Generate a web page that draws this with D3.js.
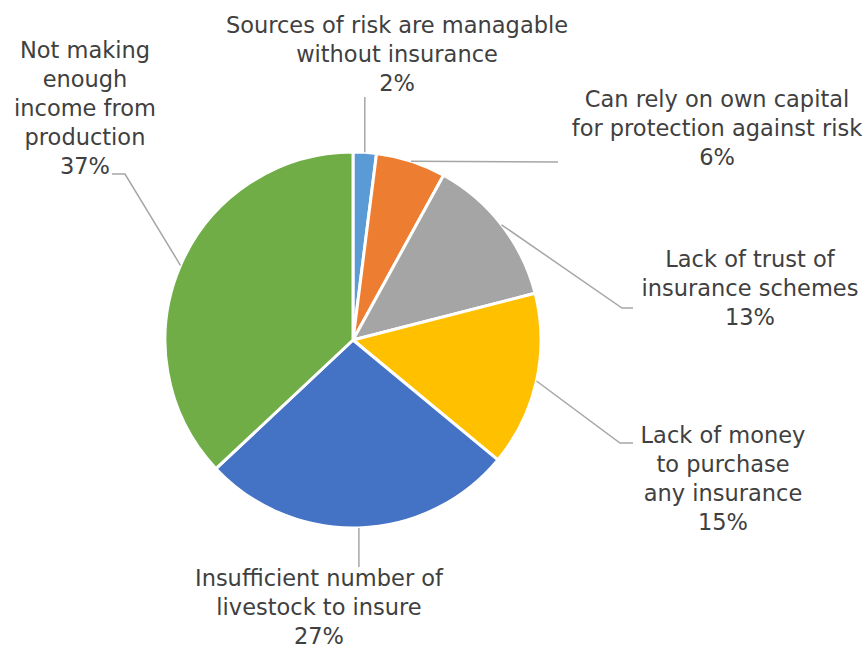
<!DOCTYPE html>
<html>
<head>
<meta charset="utf-8">
<script src="https://cdn.jsdelivr.net/npm/d3@7"></script>
<style>
  html, body { margin: 0; padding: 0; background: #fff; }
  svg text { font-family: "DejaVu Sans", sans-serif; fill: #404040; }
</style>
</head>
<body>
<svg id="chart" width="866" height="648"></svg>
<script>
// Reasons given for not taking up insurance (share of respondents)
const categories = [
  "Sources of risk are managable without insurance",
  "Can rely on own capital for protection against risk",
  "Lack of trust of insurance schemes",
  "Lack of money to purchase any insurance",
  "Insufficient number of livestock to insure",
  "Not making enough income from production"
];
const values = [2, 6, 13, 15, 27, 37];
const colors = ["#5B9BD5", "#ED7D31", "#A5A5A5", "#FFC000", "#4472C4", "#70AD47"];

// How each label's text is broken into lines
const labelLines = [
  ["Sources of risk are managable", "without insurance"],
  ["Can rely on own capital", "for protection against risk"],
  ["Lack of trust of", "insurance schemes"],
  ["Lack of money", "to purchase", "any insurance"],
  ["Insufficient number of", "livestock to insure"],
  ["Not making", "enough", "income from", "production"]
];

const svg = d3.select("#chart");
const cx = 353, cy = 340, r = 188;
const fontSize = 22.5, lineGap = 29;

const pie = d3.pie().sort(null).value(d => d);
const arcs = pie(values);
const arc = d3.arc().innerRadius(0).outerRadius(r);

const g = svg.append("g").attr("transform", `translate(${cx},${cy})`);

g.selectAll("path.slice")
  .data(arcs)
  .join("path")
  .attr("class", "slice")
  .attr("d", arc)
  .attr("fill", (d, i) => colors[i])
  .attr("stroke", "#fff")
  .attr("stroke-width", 3)
  .attr("stroke-linejoin", "round");

// Point on the rim at the middle angle of a slice
function rimPoint(d) {
  const a = (d.startAngle + d.endAngle) / 2;
  return [cx + r * Math.sin(a), cy - r * Math.cos(a)];
}

// Label block placement: text centre x, first baseline y, and leader path bends
const labelLayout = [
  { x: 397, y: 33, bends: [[365, 97]] },
  { x: 717, y: 107, bends: [[558, 162]] },
  { x: 750, y: 267, bends: [[622, 308], [633, 308]] },
  { x: 723, y: 443, bends: [[620, 443], [633, 443]] },
  { x: 319, y: 586, bends: [[359, 567]] },
  { x: 85, y: 58, bends: [[125, 174], [112, 174]] }
];

const line = d3.line();
svg.selectAll("path.leader")
  .data(arcs)
  .join("path")
  .attr("class", "leader")
  .attr("d", (d, i) => {
    const p0 = rimPoint(d);
    const b = labelLayout[i].bends;
    // vertical leaders keep the rim x so they stay straight
    if (b.length === 1 && (i === 0 || i === 4)) return line([p0, [p0[0], b[0][1]]]);
    return line([p0, ...b]);
  })
  .attr("fill", "none")
  .attr("stroke", "#A6A6A6")
  .attr("stroke-width", 1.5);

const labels = svg.selectAll("text.label")
  .data(arcs)
  .join("text")
  .attr("class", "label")
  .attr("text-anchor", "middle")
  .attr("font-size", fontSize);

labels.each(function (d, i) {
  const t = d3.select(this);
  const lines = labelLines[i].concat([d.data + "%"]);
  lines.forEach((s, k) => {
    t.append("tspan")
      .attr("x", labelLayout[i].x)
      .attr("y", labelLayout[i].y + k * lineGap)
      .text(s);
  });
});
</script>
</body>
</html>
